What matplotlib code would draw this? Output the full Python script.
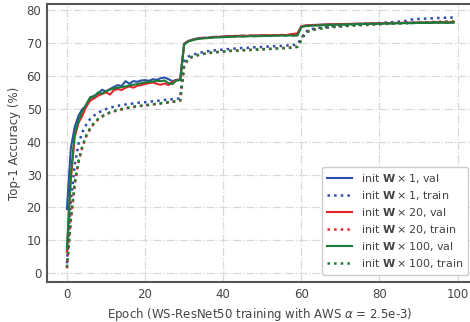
import matplotlib
matplotlib.use("Agg")
import matplotlib.pyplot as plt

# === DATA ===

epochs = list(range(100))

val_w1 = [
    19.5, 38.0, 44.5, 48.0, 50.0, 50.8, 53.2, 54.0, 54.6, 55.8,
    55.2, 56.0, 56.6, 57.2, 56.9, 58.4, 57.6, 58.4, 58.2, 58.6,
    58.7, 58.5, 59.0, 58.8, 59.3, 59.5, 59.0, 58.4, 58.8, 58.9,
    69.8, 70.6, 71.0, 71.3, 71.5, 71.6, 71.6, 71.8, 71.9, 71.8,
    72.0, 72.1, 72.0, 72.2, 72.1, 72.3, 72.1, 72.2, 72.3, 72.2,
    72.4, 72.2, 72.3, 72.4, 72.3, 72.4, 72.3, 72.5, 72.4, 72.4,
    75.0, 75.3, 75.4, 75.5, 75.5, 75.6, 75.6, 75.7, 75.6, 75.7,
    75.7, 75.8, 75.7, 75.8, 75.8, 75.9, 75.8, 75.9, 75.9, 76.0,
    75.9, 76.0, 76.0, 76.0, 76.1, 76.0, 76.1, 76.1, 76.2, 76.1,
    76.2, 76.2, 76.1, 76.2, 76.3, 76.2, 76.3, 76.3, 76.2, 76.3,
]
train_w1 = [
    3.0, 22.0, 33.0, 39.5, 43.0, 45.3, 47.0, 48.0, 48.8, 49.4,
    49.9, 50.3, 50.6, 50.9, 51.1, 51.3, 51.5, 51.6, 51.8, 51.9,
    52.0, 52.1, 52.3, 52.4, 52.5, 52.7, 52.8, 52.9, 53.0, 53.2,
    64.5, 65.8, 66.3, 66.7, 67.0, 67.3, 67.5, 67.6, 67.8, 67.9,
    68.0, 68.1, 68.2, 68.3, 68.4, 68.5, 68.5, 68.6, 68.7, 68.7,
    68.8, 68.9, 68.9, 69.0, 69.1, 69.1, 69.2, 69.3, 69.4, 69.6,
    71.5, 73.3, 74.0, 74.3, 74.5, 74.7, 74.8, 75.0, 75.1, 75.2,
    75.3, 75.4, 75.5, 75.6, 75.6, 75.7, 75.8, 75.9, 75.9, 76.0,
    76.1, 76.2, 76.2, 76.3, 76.4, 76.5, 76.6, 76.8, 77.1, 77.2,
    77.3, 77.4, 77.4, 77.5, 77.5, 77.6, 77.6, 77.7, 77.7, 77.8,
]
val_w20 = [
    6.5, 28.5, 41.5, 45.8, 48.0, 50.8, 52.5, 53.2, 54.0, 54.5,
    55.0, 54.3, 55.6, 56.0, 55.7, 56.4, 56.8, 56.4, 57.0, 57.2,
    57.5, 57.8, 58.0, 57.6, 57.3, 57.7, 57.2, 58.2, 58.6, 58.9,
    69.6, 70.5, 70.9, 71.2, 71.4, 71.6, 71.5, 71.7, 71.8, 71.9,
    71.9, 72.0, 72.1, 72.0, 72.2, 72.1, 72.2, 72.3, 72.2, 72.3,
    72.3, 72.4, 72.3, 72.4, 72.4, 72.5, 72.4, 72.6, 72.8, 72.9,
    75.1, 75.3, 75.4, 75.4, 75.5, 75.5, 75.6, 75.6, 75.7, 75.7,
    75.8, 75.7, 75.8, 75.8, 75.9, 75.8, 75.9, 75.9, 76.0, 75.9,
    76.0, 76.0, 76.1, 76.0, 76.1, 76.1, 76.1, 76.2, 76.1, 76.2,
    76.2, 76.2, 76.3, 76.2, 76.3, 76.3, 76.3, 76.2, 76.3, 76.4,
]
train_w20 = [
    1.5, 16.0, 27.0, 34.0, 38.5, 41.8, 44.0, 45.6, 46.8, 47.6,
    48.3, 48.8, 49.2, 49.5, 49.8, 50.1, 50.3, 50.5, 50.7, 50.9,
    51.0, 51.2, 51.3, 51.5, 51.6, 51.8, 51.9, 52.1, 52.2, 52.5,
    63.0, 65.0, 65.7, 66.1, 66.4, 66.7, 66.9, 67.0, 67.2, 67.3,
    67.4, 67.5, 67.6, 67.7, 67.7, 67.8, 67.9, 67.9, 68.0, 68.1,
    68.1, 68.2, 68.2, 68.3, 68.4, 68.4, 68.5, 68.6, 68.7, 68.9,
    71.0, 73.0, 73.7, 74.1, 74.3, 74.5, 74.6, 74.8, 74.9, 75.0,
    75.1, 75.2, 75.3, 75.3, 75.4, 75.5, 75.5, 75.6, 75.7, 75.7,
    75.8, 75.8, 75.9, 75.9, 76.0, 76.0, 76.1, 76.1, 76.2, 76.2,
    76.3, 76.3, 76.3, 76.4, 76.4, 76.4, 76.5, 76.5, 76.5, 76.6,
]
val_w100 = [
    7.5, 30.0, 42.5, 46.5, 49.5, 51.5, 53.6, 53.7, 55.0, 54.6,
    55.4, 55.8, 56.2, 56.4, 56.6, 56.8, 57.1, 57.3, 57.5, 57.8,
    58.0, 58.2, 58.3, 58.5, 58.4, 58.6, 57.8, 57.5, 58.6, 58.7,
    69.5, 70.4, 70.8, 71.1, 71.3, 71.4, 71.5, 71.6, 71.7, 71.7,
    71.8, 71.8, 71.9, 71.9, 72.0, 71.9, 72.0, 72.1, 72.0, 72.1,
    72.1, 72.2, 72.1, 72.2, 72.2, 72.3, 72.2, 72.3, 72.2, 72.3,
    74.8, 75.1, 75.2, 75.3, 75.3, 75.4, 75.4, 75.5, 75.5, 75.6,
    75.6, 75.6, 75.7, 75.7, 75.7, 75.8, 75.8, 75.8, 75.9, 75.8,
    75.9, 75.9, 76.0, 75.9, 76.0, 76.0, 76.0, 76.1, 76.0, 76.1,
    76.1, 76.1, 76.2, 76.1, 76.2, 76.2, 76.2, 76.1, 76.2, 76.2,
]
train_w100 = [
    1.8, 16.5, 27.5, 34.3, 38.8, 42.0, 44.2, 45.8, 46.9, 47.7,
    48.4, 48.9, 49.3, 49.6, 49.9, 50.2, 50.4, 50.6, 50.8, 50.9,
    51.1, 51.2, 51.4, 51.5, 51.7, 51.8, 52.0, 52.1, 52.3, 52.5,
    63.2, 65.1, 65.8, 66.2, 66.5, 66.7, 66.9, 67.1, 67.2, 67.3,
    67.4, 67.5, 67.6, 67.6, 67.7, 67.8, 67.8, 67.9, 68.0, 68.0,
    68.1, 68.1, 68.2, 68.3, 68.3, 68.4, 68.5, 68.5, 68.6, 68.8,
    70.9, 72.9, 73.6, 74.0, 74.2, 74.4, 74.6, 74.7, 74.8, 74.9,
    75.0, 75.1, 75.2, 75.3, 75.3, 75.4, 75.5, 75.5, 75.6, 75.6,
    75.7, 75.8, 75.8, 75.9, 75.9, 76.0, 76.0, 76.0, 76.1, 76.1,
    76.2, 76.2, 76.2, 76.3, 76.3, 76.3, 76.4, 76.4, 76.4, 76.5,
]

series = [
    (val_w1, train_w1, "1", "#2b50a8"),
    (val_w20, train_w20, "20", "#e3262b"),
    (val_w100, train_w100, "100", "#1b7c3a"),
]

y_ticks = [0, 10, 20, 30, 40, 50, 60, 70, 80]
x_ticks = [0, 20, 40, 60, 80, 100]

# === DRAW ===

text_color = "#444444"
plt.rcParams["font.family"] = ["DejaVu Sans"]
plt.rcParams["font.size"] = 8

figure = plt.figure(figsize=(4.70, 3.22), dpi=100)
# the axes run slightly past the right edge, like the cropped original
axis = figure.add_axes([0.100, 0.124, 0.906, 0.863])

for val, train, scale, color in series:
    axis.plot(epochs, val, color=color, linewidth=1.5, linestyle="-",
              label=rf"init $\mathbf{{W}} \times {scale}$, val")
    axis.plot(epochs, train, color=color, linewidth=1.8, linestyle=":",
              label=rf"init $\mathbf{{W}} \times {scale}$, train")

axis.set_xlim(-5.1, 103.9)
axis.set_ylim(-2.7, 81.8)
axis.set_xticks(x_ticks)
axis.set_yticks(y_ticks)

axis.grid(True, color="#d9d9d9", linestyle="-.", linewidth=0.9)
axis.set_axisbelow(True)
axis.tick_params(length=0, pad=4, colors=text_color, labelsize=8.5)

for side in ("left", "bottom", "top"):
    axis.spines[side].set_color("#555555")
    axis.spines[side].set_linewidth(1.5)
axis.spines["right"].set_visible(False)

axis.set_xlabel(r"Epoch (WS-ResNet50 training with AWS $\alpha$ = 2.5e-3)",
                color=text_color, fontsize=8.5, labelpad=4)
axis.set_ylabel("Top-1 Accuracy (%)", color=text_color, fontsize=8.5, labelpad=4)

legend = axis.legend(
    loc="lower right",
    bbox_to_anchor=(468 / 470, 47 / 322),
    bbox_transform=figure.transFigure,
    borderaxespad=0,
    fontsize=8,
    frameon=True,
    fancybox=True,
    framealpha=1.0,
    edgecolor="#cccccc",
    handlelength=2.2,
    labelspacing=0.36,
    borderpad=0.45,
)
for text in legend.get_texts():
    text.set_color(text_color)

figure.savefig("out.png", dpi=100)
